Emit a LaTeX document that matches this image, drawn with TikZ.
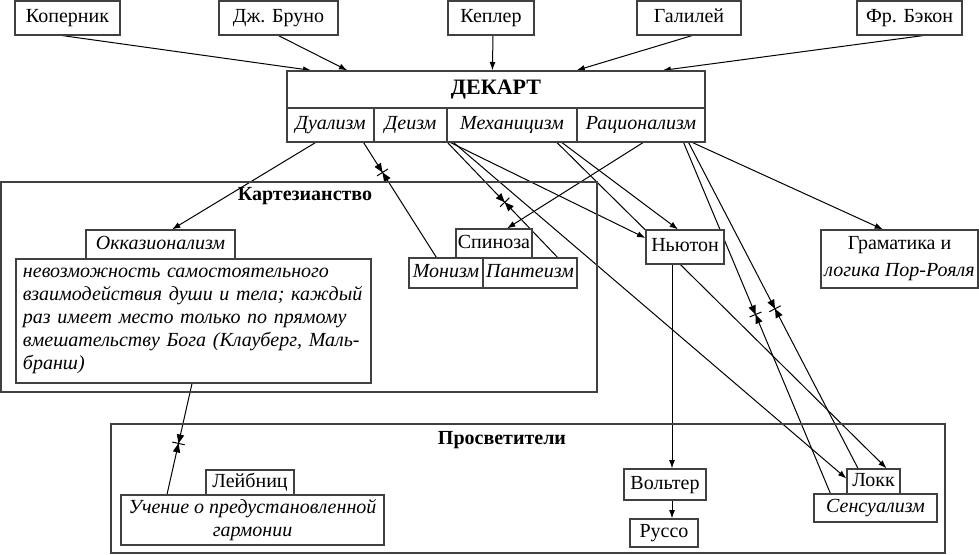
\documentclass[tikz,border=0pt]{standalone}
\usepackage{fontspec}
\setmainfont{Liberation Serif}
\usetikzlibrary{arrows.meta,calc,backgrounds,decorations.markings}

\begin{document}
\begin{tikzpicture}[x=0.5pt,y=-0.5pt,>={Latex[length=4.2pt,width=3pt]},
    font=\fontsize{10}{12}\selectfont,
    tbox/.style={draw=black!75,line width=0.6pt,fill=white,inner sep=0pt,minimum height=#1},
    tbox/.default=17pt,
    box/.style={tbox=#1,text height=7pt,text depth=2.2pt},
    box/.default=17pt,
    frame/.style={draw=black!75,line width=0.6pt},
    link/.style={line width=0.5pt},
    oppose/.style={link,postaction={decorate,decoration={markings,mark=at position #1 with {
        \fill (0,0)--(-4.5pt,1.9pt)--(-4.5pt,-1.9pt)--cycle;
        \fill (0,0)--(4.5pt,1.9pt)--(4.5pt,-1.9pt)--cycle;
        \draw[line width=0.5pt] (0,-3.2pt)--(0,3.2pt);}}}}]
    \useasboundingbox (0,0) rectangle (979,554);

    % sources
    \node[box, minimum width=52.5pt] (kop)     at (67.5,18)  {Коперник};
    \node[box, minimum width=59.5pt] (bruno)   at (278.5,18) {Дж. Бруно};
    \node[box, minimum width=43pt]   (kepler)  at (491,18)   {Кеплер};
    \node[box, minimum width=52pt]   (galilei) at (689,18)   {Галилей};
    \node[box, minimum width=52.5pt] (bacon)   at (909.5,18) {Фр. Бэкон};

    % Descartes
    \node[box=18.5pt, minimum width=209pt, font=\fontsize{11}{13}\selectfont\bfseries] (dek) at (496,89.5) {ДЕКАРТ};
    \node[box, minimum width=43.5pt, font=\itshape] (dual)  at (330.5,125) {Дуализм};
    \node[box, minimum width=36.5pt, font=\itshape] (deism) at (410.5,125) {Деизм};
    \node[box, minimum width=65pt,   font=\itshape] (mech)  at (512,125)   {Механицизм};
    \node[box, minimum width=64pt,   font=\itshape] (ratio) at (641,125)   {Рационализм};

    % Cartesianism
    \draw[frame] (1,182) rectangle (597,392);
    \node[font=\bfseries] (cart) at (305,196) {Картезианство};
    \node[box=14.5pt, minimum width=74.5pt, font=\itshape] (occ) at (160.5,244.5) {Окказионализм};
    \node[tbox=62pt, text width=170.5pt, inner xsep=3.5pt, align=left, font=\itshape\fontsize{10}{11.5}\selectfont] (desc) at (193.5,321)
        {невозможность самостоятельного\\ взаимодействия души и тела; каждый\\ раз имеет место только по прямому\\ вмешательству Бога (Клауберг, Маль-\\ бранш)};
    \node[box=14.5pt, minimum width=38pt] (spin) at (494,243.5) {Спиноза};
    \node[box=15pt, minimum width=37pt, font=\itshape] (mon) at (446,273) {Монизм};
    \node[box=15pt, minimum width=47pt, font=\itshape] (pan) at (530,273) {Пантеизм};

    \node[box, minimum width=39pt] (newton) at (685,247) {Ньютон};
    \node[tbox=29pt, minimum width=78.5pt, align=center, font=\fontsize{10}{13.5}\selectfont] (gram) at (899.5,259) {Граматика и\\ \textit{логика Пор-Рояля}};

    % Enlightenment
    \draw[frame] (111,424) rectangle (945,553);
    \node[font=\bfseries] (prosv) at (502,440) {Просветители};
    \node[box=12.5pt, minimum width=44pt] (leib) at (250,482.5) {Лейбниц};
    \node[tbox=25pt, minimum width=131.5pt, align=center, font=\itshape\fontsize{10}{11.5}\selectfont] (uch) at (252.5,520) {Учение о предустановленной\\ гармонии};
    \node[box=15.5pt, minimum width=41pt] (volt)  at (665,484.5) {Вольтер};
    \node[box=14pt,   minimum width=34pt] (russo) at (664,533)   {Руссо};
    \node[box=12.5pt, minimum width=26.5pt] (locke) at (873.5,481.5) {Локк};
    \node[box=14pt,   minimum width=61.5pt, font=\itshape] (sens) at (875.5,508) {Сенсуализм};

    \begin{scope}[on background layer]
    \path[->,link]
        ($(kop.south)+(-5,0)$)     edge ($(dek.north west)+(25,0)$)
        (bruno.south)              edge ($(dek.north west)+(61,0)$)
        ($(kepler.south)+(2,0)$)   edge ($(dek.north west)+(206,0)$)
        ($(galilei.south)+(3,0)$)  edge ($(dek.north west)+(290,0)$)
        ($(bacon.south)+(13.5,0)$) edge ($(dek.north west)+(376,0)$)
        ($(dual.south west)+(29,0)$) edge ($(occ.north)+(11.5,0)$)
        ($(deism.south east)+(3,0)$) edge ($(newton.west)+(0,-9)$)
        ($(deism.south east)+(6,0)$) edge ($(locke.west)+(0,-3)$)
        ($(mech.south)+(45,0)$)    edge ($(locke.north east)+(-14,0)$)
        ($(mech.south)+(50,0)$)    edge ($(newton.north)+(-7,0)$)
        ($(ratio.south)+(2,0)$)    edge ($(spin.north)+(13,0)$)
        ($(ratio.south east)+(-13,0)$) edge ($(gram.north)+(-16.5,0)$)
        ($(newton.south)+(-13,0)$) edge ($(volt.north)+(7,0)$)
        ($(volt.south)+(7,0)$)     edge ($(russo.north)+(8,0)$);
    \draw[oppose=0.26] ($(dual.south east)+(-11,0)$) -- ($(mon.north west)+(28,0)$);
    \draw[oppose=0.52] (deism.south east) -- ($(pan.north east)+(-20,0)$);
    \draw[oppose=0.49] ($(ratio.south east)+(-22,0)$) -- ($(sens.north west)+(17,0)$);
    \draw[oppose=0.51] ($(ratio.south east)+(-17,0)$) -- ($(locke.north)+(-15.5,0)$);
    \draw[oppose=0.54] ($(desc.south)+(-1.5,0)$) -- ($(uch.north)+(-85.5,0)$);
    \end{scope}
\end{tikzpicture}
\end{document}
